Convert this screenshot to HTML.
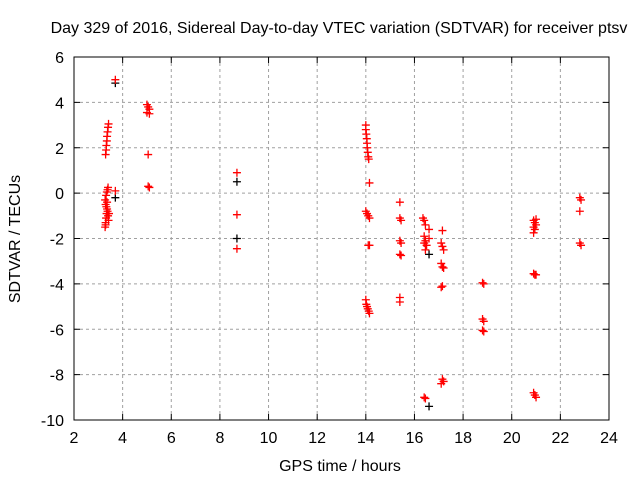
<!DOCTYPE html>
<html><head><meta charset="utf-8"><style>
body{margin:0;background:#fff}
svg text{font-family:"Liberation Sans",sans-serif;font-size:16px;fill:#000}
</style></head><body>
<svg id="c" width="640" height="480">
<text x="339" y="33" text-anchor="middle">Day 329 of 2016, Sidereal Day-to-day VTEC variation (SDTVAR) for receiver ptsv</text>
<text x="340" y="471" text-anchor="middle">GPS time / hours</text>
<text transform="translate(20,239) rotate(-90)" text-anchor="middle">SDTVAR / TECUs</text>
<g id="grid"></g><g id="ticks"></g><g id="marks"></g>
<rect x="74" y="57" width="535" height="363" fill="none" stroke="#000" stroke-width="1"/>
</svg>
<script>
const xTicks=[2,4,6,8,10,12,14,16,18,20,22,24];
const yTicks=[6,4,2,0,-2,-4,-6,-8,-10];
const redX=[3.30,3.32,3.33,3.35,3.36,3.38,3.40,3.42,3.28,3.30,3.32,3.34,3.36,3.30,3.28,3.32,3.35,3.38,3.40,3.42,3.40,3.38,3.33,3.36,3.30,3.44,3.7,3.7,5.0,5.05,5.1,5.0,5.1,5.05,5.05,5.1,8.7,8.7,8.7,14.0,14.0,14.02,14.04,14.05,14.06,14.08,14.1,14.12,14.15,14.0,14.05,14.1,14.15,14.1,14.15,14.0,14.02,14.05,14.08,14.12,14.15,15.4,15.4,15.45,15.4,15.45,15.4,15.45,15.4,15.4,16.35,16.4,16.45,16.4,16.45,16.4,16.5,16.45,16.4,16.45,16.6,16.6,17.15,17.1,17.15,17.2,17.1,17.15,17.2,17.15,17.1,17.15,17.2,17.1,18.8,18.85,18.8,18.85,18.8,18.85,20.9,20.95,21.0,20.9,20.95,20.9,21.0,20.9,20.95,21.0,20.9,20.95,21.0,22.8,22.85,22.8,22.8,22.85];
const redY=[1.7,1.9,2.1,2.3,2.5,2.7,2.9,3.05,-1.5,-1.3,-1.1,-0.9,-0.7,-0.5,-0.3,-0.1,0.05,0.15,0.25,-1.2,-1.0,-0.8,-0.6,-0.4,-1.4,-0.9,0.1,5.0,3.9,3.8,3.7,3.55,3.5,1.7,0.3,0.25,0.9,-0.95,-2.45,3.0,2.8,2.6,2.4,2.2,2.0,1.8,1.6,1.5,0.45,-0.8,-0.9,-1.0,-1.1,-2.3,-2.3,-4.7,-4.9,-5.0,-5.1,-5.2,-5.3,-0.4,-1.1,-1.2,-2.1,-2.2,-2.7,-2.75,-4.6,-4.8,-1.1,-1.2,-1.4,-1.9,-2.1,-2.2,-2.3,-2.5,-9.0,-9.05,-1.6,-2.0,-1.65,-2.2,-2.35,-2.5,-3.1,-3.25,-3.3,-4.1,-4.15,-8.2,-8.3,-8.4,-3.95,-4.0,-5.55,-5.65,-6.05,-6.1,-1.2,-1.3,-1.15,-1.5,-1.6,-1.75,-1.4,-3.55,-3.6,-3.6,-8.8,-8.9,-9.0,-0.2,-0.3,-0.8,-2.2,-2.3];
const blackX=[3.7,3.7,8.7,8.7,16.6,16.6];
const blackY=[-0.2,4.85,0.5,-2.0,-2.7,-9.4];
const X0=74,X1=609,Y0=57,Y1=420;
function sx(v){return X0+(v-2)/22*(X1-X0);}
function sy(v){return Y1-(v+10)/16*(Y1-Y0);}
const NS="http://www.w3.org/2000/svg";
function mk(t,a,p){const e=document.createElementNS(NS,t);for(const k in a)e.setAttribute(k,a[k]);p.appendChild(e);return e;}
const grid=document.getElementById('grid'),ticks=document.getElementById('ticks'),marks=document.getElementById('marks');
xTicks.forEach(v=>{const x=sx(v);
 if(v>2&&v<24){const g=mk('line',{x1:x,x2:x,y1:Y0,y2:Y1,stroke:'#a0a0a0','stroke-dasharray':'3,3'},grid);
 
 }
 mk('line',{x1:x,x2:x,y1:Y1,y2:Y1-6,stroke:'#000'},ticks);
 mk('line',{x1:x,x2:x,y1:Y0,y2:Y0+6,stroke:'#000'},ticks);
 const t=mk('text',{x:x,y:Y1+23,'text-anchor':'middle'},ticks);t.textContent=v;
 
 });
yTicks.forEach(v=>{const y=sy(v);
 if(v>-10&&v<6){const g=mk('line',{x1:X0,x2:X1,y1:y,y2:y,stroke:'#a0a0a0','stroke-dasharray':'3,3'},grid);
 
 }
 mk('line',{x1:X0,x2:X0+6,y1:y,y2:y,stroke:'#000'},ticks);
 mk('line',{x1:X1,x2:X1-6,y1:y,y2:y,stroke:'#000'},ticks);
 const t=mk('text',{x:X0-10,y:y+6,'text-anchor':'end'},ticks);t.textContent=v;
 
 });
function plus(xa,ya,col,name){for(let i=0;i<xa.length;i++){const x=sx(xa[i]),y=sy(ya[i]);
 const p=mk('path',{d:`M${x-4},${y}H${x+4}M${x},${y-4}V${y+4}`,stroke:col,'stroke-width':1.3,fill:'none'},marks);
 
 }}
plus(blackX,blackY,'#000','black-point');
plus(redX,redY,'#f00','red-point');
</script>
</body></html>
